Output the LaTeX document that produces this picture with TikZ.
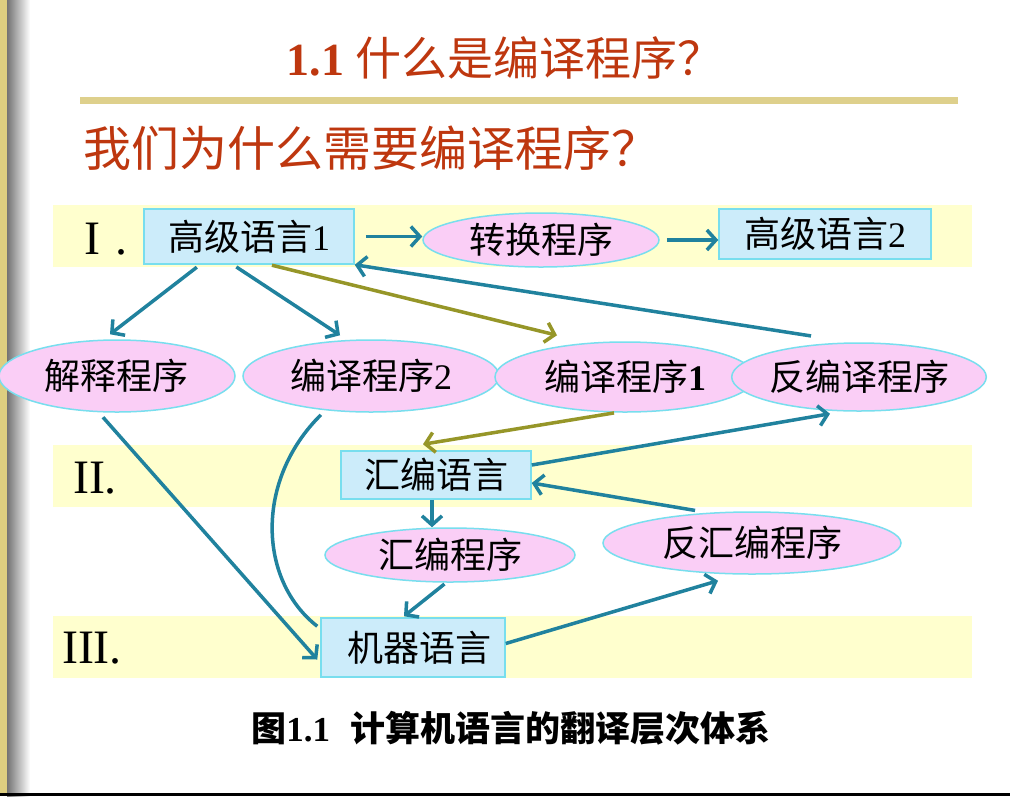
\documentclass[tikz,border=0pt]{standalone}
\usepackage{fontspec}
\setmainfont{Liberation Serif}
\newfontfamily\cjk{Noto Sans CJK SC}
\usetikzlibrary{arrows.meta,shapes.geometric}
\definecolor{titlered}{RGB}{190,55,15}
\definecolor{rulegold}{RGB}{222,208,140}
\definecolor{stripgold}{RGB}{221,206,128}
\definecolor{bandyellow}{RGB}{255,255,206}
\definecolor{boxfill}{RGB}{204,236,250}
\definecolor{boxline}{RGB}{120,222,238}
\definecolor{progfill}{RGB}{250,206,246}
\definecolor{arrteal}{RGB}{32,130,158}
\definecolor{arrolive}{RGB}{150,150,40}
\tikzset{
	lang/.style={draw=boxline,fill=boxfill,line width=1.5pt,inner sep=0pt,font=\fontsize{36}{40}\selectfont},
	prog/.style={ellipse,draw=boxline,fill=progfill,line width=1.5pt,inner sep=0pt,font=\fontsize{36}{40}\selectfont},
	level/.style={font=\fontsize{48}{52}\selectfont},
	arr/.style={draw=arrteal,line width=3.5pt,-{Straight Barb[length=9pt,width=20pt]}},
	arro/.style={arr,draw=arrolive},
	band/.style={fill=bandyellow}
}
\begin{document}
\begin{tikzpicture}[x=1pt,y=-1pt]
	\useasboundingbox (0,0) rectangle (1010,796);
	\fill[white] (0,0) rectangle (1010,796);
	\fill[stripgold] (0,0) rectangle (7,796);
	\shade[left color=black!55,right color=white] (7,0) rectangle (30,796);
	\fill[black] (0,793) rectangle (1010,796);
	\node[text=titlered,font=\fontsize{46}{50}\selectfont] (title) at (505,58) {\textbf{1.1} {\cjk 什么是编译程序？}};
	\fill[rulegold] (80,97) rectangle (958,104);
	\node[text=titlered,anchor=west,font=\fontsize{48}{52}\selectfont] (why) at (80,148) {\cjk 我们为什么需要编译程序？};
	\fill[band] (53,205) rectangle (972,267);
	\fill[band] (53,445) rectangle (972,507);
	\fill[band] (53,616) rectangle (972,678);
	\node[level] (l1) at (106,239) {I\,\,.};
	\node[level] (l2) at (95,478) {II.};
	\node[level] (l3) at (92,648) {III.};
	\node[lang,minimum width=210pt,minimum height=55pt] (gj1) at (249,236.5) {{\cjk 高级语言}1\hspace{20pt}};
	\node[lang,minimum width=212pt,minimum height=50pt] (gj2) at (825,234) {{\cjk 高级语言}2};
	\node[lang,minimum width=190pt,minimum height=48pt] (hb) at (436,475) {\cjk 汇编语言};
	\node[lang,minimum width=184pt,minimum height=59pt] (jq) at (413,647.5) {\hspace{12pt}{\cjk 机器语言}};
	\node[prog,minimum width=236pt,minimum height=54pt] (zh) at (541,240) {\cjk 转换程序};
	\node[prog,minimum width=236pt,minimum height=72pt] (jsh) at (117,376) {\cjk 解释程序};
	\node[prog,minimum width=256pt,minimum height=72pt] (by2) at (371,376) {{\cjk 编译程序}2};
	\node[prog,minimum width=260pt,minimum height=70pt] (by1) at (625,377) {{\cjk 编译程序}\textbf{1}};
	\node[prog,minimum width=242pt,minimum height=68pt] (fby) at (859,377) {\cjk 反编译程序};
	\node[prog,minimum width=250pt,minimum height=54pt] (hbcx) at (450,555) {\cjk 汇编程序};
	\node[prog,minimum width=298pt,minimum height=62pt] (fhb) at (752,543) {\cjk 反汇编程序};
	\node[font=\fontsize{35}{40}\selectfont\bfseries] (cap) at (511,728) {{\cjk 图}1.1\,\, {\cjk 计算机语言的翻译层次体系}};
	\draw[arr] ([xshift=11pt]gj1.east) -- (zh.west |- gj1.east);
	\draw[arr] ([xshift=7pt]zh.east) -- (gj2.west |- zh.east);
	\draw[arr,shorten <=4pt] ([xshift=-49pt]gj1.south) -- ([xshift=-7pt,yshift=5pt]jsh.north);
	\draw[arr,shorten <=4pt] ([xshift=-16pt]gj1.south) -- ([xshift=-31pt,yshift=4pt]by2.north);
	\draw[arro,shorten <=2pt] ([xshift=21pt]gj1.south) -- ([xshift=-68pt,yshift=6pt]by1.north);
	\draw[arr,shorten <=2pt] ([xshift=-46pt,yshift=6pt]fby.north) -- (gj1.south east);
	\draw[arro,shorten <=1pt] ([xshift=-10pt]by1.south) -- ([xshift=-13pt,yshift=6pt]hb.north);
	\draw[arr] ([yshift=10pt]hb.east) -- ([xshift=-29pt,yshift=-2pt]fby.south);
	\draw[arr,shorten <=5pt] ([xshift=-52pt]fhb.north) -- ([yshift=-8pt]hb.east);
	\draw[arr] ([xshift=-4pt]hb.south) -- ([xshift=-4pt]hb.south |- hbcx.north);
	\draw[arr,shorten <=2pt] ([xshift=-4pt]hbcx.south) -- ([xshift=-9pt,yshift=1pt]jq.north);
	\draw[arr] ([yshift=4pt]jq.east) -- ([xshift=-34pt,yshift=-6pt]fhb.south);
	\draw[arr,shorten <=6pt] ([xshift=-18pt]jsh.south) -- ([xshift=-3pt,yshift=-12pt]jq.west);
	\draw[draw=arrteal,line width=3.5pt,shorten <=3pt] ([xshift=-48pt]by2.south) .. controls (255,480) and (258,580) .. ([xshift=-3pt,yshift=-9pt]jq.north west);
\end{tikzpicture}
\end{document}
